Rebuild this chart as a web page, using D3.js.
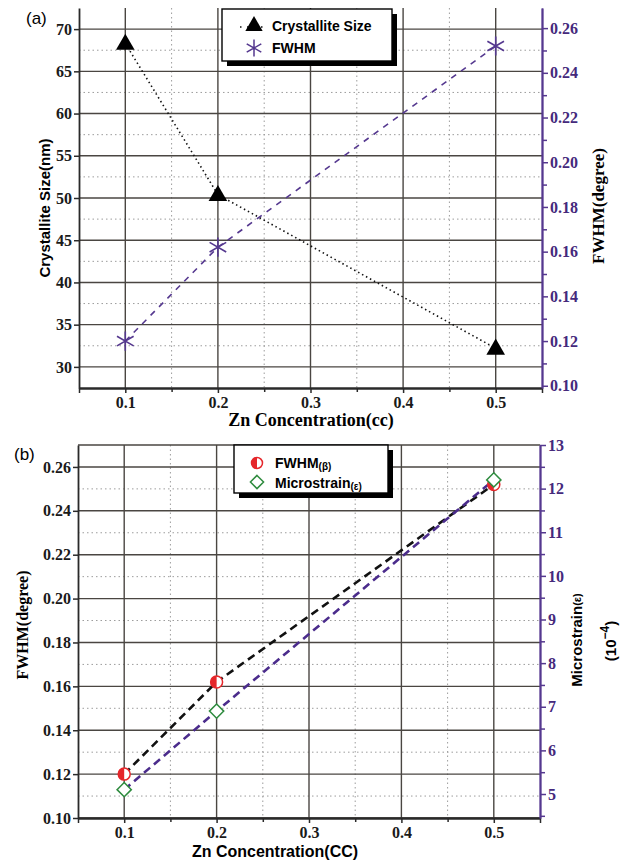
<!DOCTYPE html>
<html>
<head>
<meta charset="utf-8">
<script src="https://cdn.jsdelivr.net/npm/d3@7"></script>
<style>
  body { margin: 0; background: #fff; }
  svg { display: block; }
</style>
</head>
<body>
<script>
// data
const conc = [0.1, 0.2, 0.5];
const crystalliteSize = [68.3, 50.4, 32.2];      // nm, panel (a) left axis
const fwhmA = [0.120, 0.162, 0.252];             // degree, panel (a) right axis
const fwhmB = [0.120, 0.162, 0.252];             // degree, panel (b) left axis
const microstrain = [5.1, 6.9, 12.2];            // 10^-4, panel (b) right axis

const xTicks = [0.1, 0.2, 0.3, 0.4, 0.5];
const xMinor = [0.15, 0.25, 0.35, 0.45];
const sizeTicks = [30, 35, 40, 45, 50, 55, 60, 65, 70];
const sizeMinor = [32.5, 37.5, 42.5, 47.5, 52.5, 57.5, 62.5, 67.5];
const fwhmATicks = [0.10, 0.12, 0.14, 0.16, 0.18, 0.20, 0.22, 0.24, 0.26];
const fwhmAMinor = [0.11, 0.13, 0.15, 0.17, 0.19, 0.21, 0.23, 0.25];
const fwhmBTicks = [0.10, 0.12, 0.14, 0.16, 0.18, 0.20, 0.22, 0.24, 0.26];
const fwhmBMinor = [0.11, 0.13, 0.15, 0.17, 0.19, 0.21, 0.23, 0.25];
const strainTicks = [5, 6, 7, 8, 9, 10, 11, 12, 13];
const strainMinor = [4.5, 5.5, 6.5, 7.5, 8.5, 9.5, 10.5, 11.5, 12.5];

const W = 624, H = 861;
const purple = "#55388f";
const lineDark = "#4a4642";
const SERIF = '"Liberation Serif"';
const SANS = '"Liberation Sans"';

const svg = d3.select("body").append("svg")
  .attr("width", W)
  .attr("height", H);

svg.append("rect").attr("width", W).attr("height", H).attr("fill", "#fff");

// small helper for text with a given family / size / weight
function label(parent, family, size, bold) {
  return parent.append("text")
    .style("font-family", family)
    .style("font-size", size + "px")
    .style("font-weight", bold ? "bold" : "normal");
}

function drawPanel(p) {
  const x = d3.scaleLinear().domain([0.05, 0.55]).range([p.left, p.right]);
  const yL = d3.scaleLinear().domain(p.yLDomain).range([p.bottom, p.top]);
  const yR = d3.scaleLinear().domain(p.yRDomain).range([p.bottom, p.top]);
  const g = svg.append("g");

  // dotted minor grid
  g.append("g").selectAll("line").data(xMinor).join("line")
    .attr("x1", d => x(d)).attr("x2", d => x(d))
    .attr("y1", p.top).attr("y2", p.bottom)
    .attr("stroke", "#9c9c9c").attr("stroke-width", 1).attr("stroke-dasharray", "1.5,3");
  g.append("g").selectAll("line").data(p.yLMinor).join("line")
    .attr("x1", p.left).attr("x2", p.right)
    .attr("y1", d => yL(d)).attr("y2", d => yL(d))
    .attr("stroke", "#9c9c9c").attr("stroke-width", 1).attr("stroke-dasharray", "1.5,3");

  // solid major grid
  g.append("g").selectAll("line").data(xTicks).join("line")
    .attr("x1", d => x(d)).attr("x2", d => x(d))
    .attr("y1", p.top).attr("y2", p.bottom)
    .attr("stroke", lineDark).attr("stroke-width", 1.4);
  g.append("g").selectAll("line").data(p.yLTicks).join("line")
    .attr("x1", p.left).attr("x2", p.right)
    .attr("y1", d => yL(d)).attr("y2", d => yL(d))
    .attr("stroke", lineDark).attr("stroke-width", 1.4);

  if (p.topLine) {
    g.append("line")
      .attr("x1", p.left).attr("x2", p.right)
      .attr("y1", p.top).attr("y2", p.top)
      .attr("stroke", lineDark).attr("stroke-width", 1.6);
  }

  // axes
  const styleAxis = (sel, color) => {
    sel.attr("font-family", null).attr("font-size", null);
    sel.selectAll("path").attr("stroke", color).attr("stroke-width", 1.8);
    sel.selectAll("line").attr("stroke", color).attr("stroke-width", 1.5);
    sel.selectAll("text")
      .style("font-family", SERIF)
      .style("font-weight", "bold")
      .style("font-size", "16px")
      .attr("fill", color === purple ? "#45297c" : "#1a1a1a");
  };

  g.append("g")
    .attr("transform", `translate(0,${p.bottom})`)
    .call(d3.axisBottom(x).tickValues(xMinor).tickSize(4).tickFormat("").tickSizeOuter(0))
    .call(s => styleAxis(s, "#2a2a2a"));
  g.append("g")
    .attr("transform", `translate(0,${p.bottom})`)
    .call(d3.axisBottom(x).tickValues([0.05].concat(xTicks, [0.55])).tickSize(5)
      .tickFormat(d => (d < 0.08 || d > 0.52) ? "" : d3.format(".1f")(d)).tickSizeOuter(0).tickPadding(4))
    .call(s => styleAxis(s, "#2a2a2a"));

  g.append("g")
    .attr("transform", `translate(${p.left},0)`)
    .call(d3.axisLeft(yL).tickValues(p.yLTicks).tickSize(5).tickFormat(p.yLFmt).tickSizeOuter(0).tickPadding(2))
    .call(s => styleAxis(s, "#2a2a2a"));

  g.append("g")
    .attr("transform", `translate(${p.right},0)`)
    .call(d3.axisRight(yR).tickValues(p.yRMinor).tickSize(5).tickFormat("").tickSizeOuter(0))
    .call(s => styleAxis(s, purple));
  g.append("g")
    .attr("transform", `translate(${p.right},0)`)
    .call(d3.axisRight(yR).tickValues(p.yRTicks).tickSize(6).tickFormat(p.yRFmt).tickSizeOuter(0).tickPadding(2))
    .call(s => styleAxis(s, purple));

  return {x, yL, yR, g};
}

// ---------- panel (a) ----------
const a = drawPanel({
  left: 79, right: 542, top: 8, bottom: 388,
  yLDomain: [27.5, 72.5], yRDomain: [0.099, 0.269],
  yLTicks: sizeTicks, yLMinor: sizeMinor, yRTicks: fwhmATicks, yRMinor: fwhmAMinor,
  yLFmt: d3.format("d"), yRFmt: d3.format(".2f"), topLine: false
});

const sizeData = conc.map((c, i) => ({x: c, y: crystalliteSize[i]}));
const fwhmAData = conc.map((c, i) => ({x: c, y: fwhmA[i]}));

a.g.append("path")
  .datum(sizeData)
  .attr("fill", "none").attr("stroke", "#111").attr("stroke-width", 1.6)
  .attr("stroke-dasharray", "1.5,3")
  .attr("d", d3.line().x(d => a.x(d.x)).y(d => a.yL(d.y)));

a.g.append("path")
  .datum(fwhmAData)
  .attr("fill", "none").attr("stroke", purple).attr("stroke-width", 1.6)
  .attr("stroke-dasharray", "6,6")
  .attr("d", d3.line().x(d => a.x(d.x)).y(d => a.yR(d.y)));

a.g.append("g").selectAll("path").data(sizeData).join("path")
  .attr("transform", d => `translate(${a.x(d.x)},${a.yL(d.y) + 1})`)
  .attr("d", d3.symbol(d3.symbolTriangle, 150))
  .attr("fill", "#000");

a.g.append("g").selectAll("path").data(fwhmAData).join("path")
  .attr("transform", d => `translate(${a.x(d.x)},${a.yR(d.y)})`)
  .attr("d", d3.symbol(d3.symbolAsterisk, 260))
  .attr("fill", "none").attr("stroke", purple).attr("stroke-width", 1.6);

// legend (a)
const legA = svg.append("g");
legA.append("rect").attr("x", 227).attr("y", 14).attr("width", 170).attr("height", 52).attr("fill", "#000");
legA.append("rect").attr("x", 222).attr("y", 9).attr("width", 170).attr("height", 52)
  .attr("fill", "#fff").attr("stroke", "#000").attr("stroke-width", 1.4);
legA.append("line").attr("x1", 240).attr("x2", 268).attr("y1", 27).attr("y2", 27)
  .attr("stroke", "#111").attr("stroke-width", 1.6).attr("stroke-dasharray", "1.5,5.5");
legA.append("path").attr("transform", "translate(254,26)")
  .attr("d", d3.symbol(d3.symbolTriangle, 130)).attr("fill", "#000");
legA.append("path").attr("transform", "translate(254,48)")
  .attr("d", d3.symbol(d3.symbolAsterisk, 200))
  .attr("fill", "none").attr("stroke", purple).attr("stroke-width", 1.5);
label(legA, SANS, 14, true).attr("x", 272).attr("y", 31).text("Crystallite Size");
label(legA, SANS, 14, true).attr("x", 272).attr("y", 53).text("FWHM");

// axis titles (a)
label(svg, SANS, 17, false).attr("x", 26).attr("y", 24).text("(a)");
label(svg, SANS, 15, true)
  .attr("transform", "translate(50,208) rotate(-90)")
  .attr("text-anchor", "middle").text("Crystallite Size(nm)");
label(svg, SERIF, 17, true)
  .attr("transform", "translate(604,206) rotate(-90)")
  .attr("text-anchor", "middle").text("FWHM(degree)");
label(svg, SERIF, 18, true)
  .attr("x", 311).attr("y", 426)
  .attr("text-anchor", "middle").text("Zn Concentration(cc)");

// ---------- panel (b) ----------
const b = drawPanel({
  left: 78, right: 540, top: 445, bottom: 818,
  yLDomain: [0.10, 0.27], yRDomain: [4.45, 13],
  yLTicks: fwhmBTicks, yLMinor: fwhmBMinor, yRTicks: strainTicks, yRMinor: strainMinor.filter(d => d > 4.45),
  yLFmt: d3.format(".2f"), yRFmt: d3.format("d"), topLine: true
});

const fwhmBData = conc.map((c, i) => ({x: c, y: fwhmB[i]}));
const strainData = conc.map((c, i) => ({x: c, y: microstrain[i]}));

b.g.append("path")
  .datum(fwhmBData)
  .attr("fill", "none").attr("stroke", "#111").attr("stroke-width", 2.6)
  .attr("stroke-dasharray", "8,5")
  .attr("d", d3.line().x(d => b.x(d.x)).y(d => b.yL(d.y)));

b.g.append("path")
  .datum(strainData)
  .attr("fill", "none").attr("stroke", "#4b2c8c").attr("stroke-width", 2.6)
  .attr("stroke-dasharray", "8,5")
  .attr("d", d3.line().x(d => b.x(d.x)).y(d => b.yR(d.y)));

const halfCircle = (sel, r) => {
  sel.append("circle").attr("r", r).attr("fill", "#fff").attr("stroke", "#e5262a").attr("stroke-width", 1.5);
  sel.append("path").attr("d", `M0,${-r} A${r},${r} 0 0 0 0,${r} Z`).attr("fill", "#e5262a");
};

b.g.append("g").selectAll("g").data(fwhmBData).join("g")
  .attr("transform", d => `translate(${b.x(d.x)},${b.yL(d.y)})`)
  .each(function() { halfCircle(d3.select(this), 6); });

b.g.append("g").selectAll("path").data(strainData).join("path")
  .attr("transform", d => `translate(${b.x(d.x)},${b.yR(d.y)})`)
  .attr("d", d3.symbol(d3.symbolDiamond2, 130))
  .attr("fill", "#fff").attr("stroke", "#2e8b3e").attr("stroke-width", 1.5);

// legend (b)
const legB = svg.append("g");
legB.append("rect").attr("x", 239).attr("y", 450).attr("width", 154).attr("height", 48).attr("fill", "#000");
legB.append("rect").attr("x", 234).attr("y", 445).attr("width", 154).attr("height", 48)
  .attr("fill", "#fff").attr("stroke", "#000").attr("stroke-width", 1.4);
halfCircle(legB.append("g").attr("transform", "translate(257,463)"), 5.5);
legB.append("path").attr("transform", "translate(257,482)")
  .attr("d", d3.symbol(d3.symbolDiamond2, 110))
  .attr("fill", "#fff").attr("stroke", "#2e8b3e").attr("stroke-width", 1.5);
const t1 = label(legB, SANS, 14, true).attr("x", 275).attr("y", 468);
t1.append("tspan").text("FWHM");
t1.append("tspan").style("font-size", "10px").attr("dy", 2).text("(β)");
const t2 = label(legB, SANS, 14, true).attr("x", 275).attr("y", 488);
t2.append("tspan").text("Microstrain");
t2.append("tspan").style("font-size", "10px").attr("dy", 2).text("(ε)");

// axis titles (b)
label(svg, SANS, 17, false).attr("x", 14).attr("y", 460).text("(b)");
label(svg, SERIF, 16, true)
  .attr("transform", "translate(28,625) rotate(-90)")
  .attr("text-anchor", "middle").text("FWHM(degree)");
const ms = label(svg, SANS, 15, true)
  .attr("transform", "translate(582,640) rotate(-90)")
  .attr("text-anchor", "middle");
ms.append("tspan").text("Microstrain");
ms.append("tspan").style("font-size", "11px").attr("dy", -1).text("(ε)");
const pw = label(svg, SANS, 15, true)
  .attr("transform", "translate(616,641) rotate(-90)")
  .attr("text-anchor", "middle");
pw.append("tspan").text("(10");
pw.append("tspan").style("font-size", "12px").attr("dy", -7).text("−4");
pw.append("tspan").attr("dy", 7).text(")");
label(svg, SANS, 16, true)
  .attr("x", 275).attr("y", 857)
  .attr("text-anchor", "middle").text("Zn Concentration(CC)");
</script>
</body>
</html>
